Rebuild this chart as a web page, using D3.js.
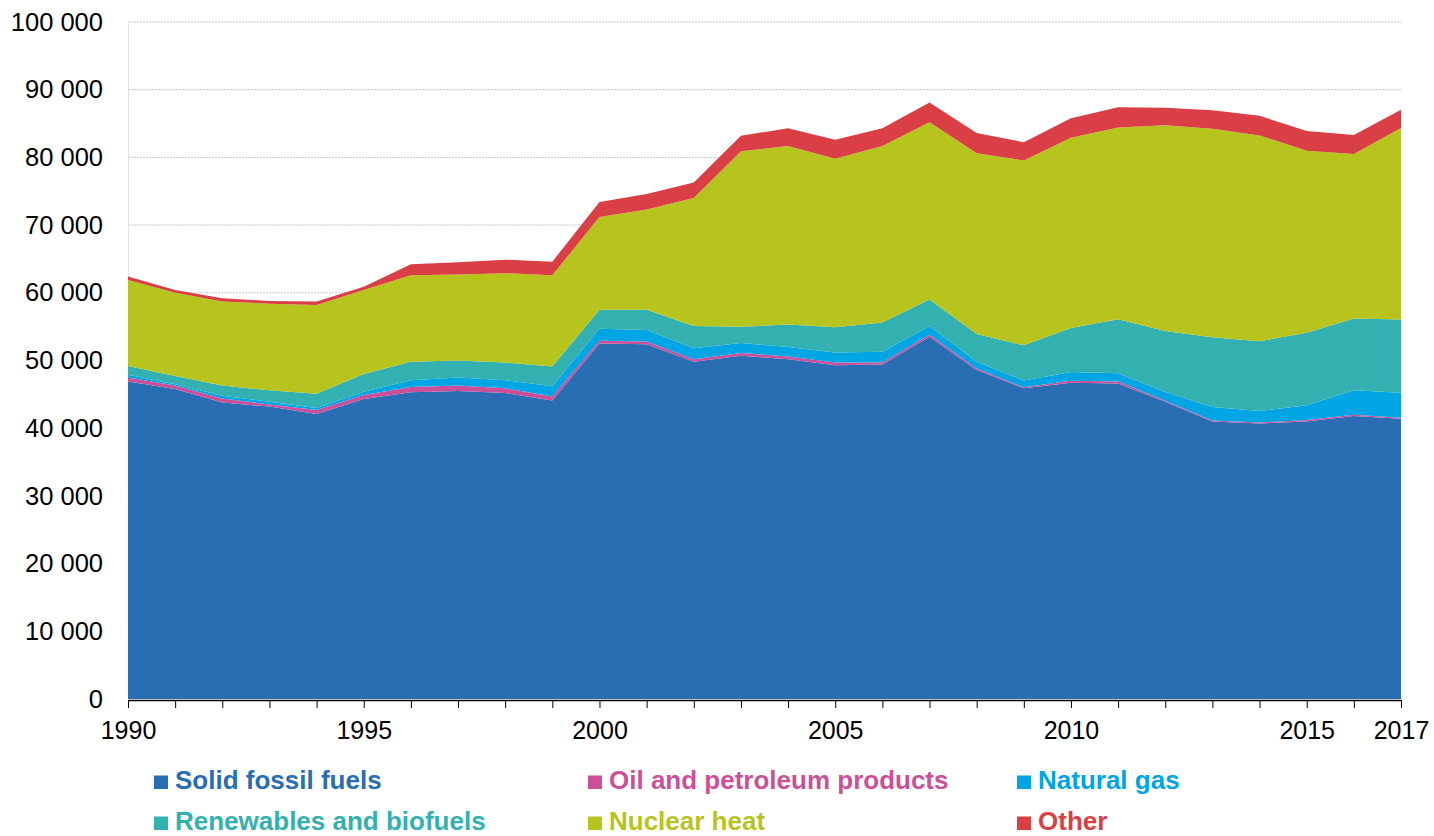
<!DOCTYPE html>
<html><head><meta charset="utf-8">
<script src="https://cdn.jsdelivr.net/npm/d3@7"></script>
<style>
body{margin:0;background:#fff;}
svg{display:block;font-family:"Liberation Sans",Arial,sans-serif;}
</style></head>
<body><svg id="c" width="1434" height="836"></svg>
<script>
const years = [1990,1991,1992,1993,1994,1995,1996,1997,1998,1999,2000,2001,2002,2003,2004,2005,2006,2007,2008,2009,2010,2011,2012,2013,2014,2015,2016,2017];
const solid = [46900,45800,43800,43200,42100,44300,45300,45500,45200,44100,52500,52400,49800,50700,50200,49300,49400,53500,48600,45900,46700,46600,43900,41000,40700,41000,41800,41400];
const oil   = [600,500,600,300,600,600,800,800,700,600,400,400,400,400,400,400,300,300,200,150,300,300,150,150,150,200,200,150];
const gas   = [400,200,400,400,300,500,1000,1200,1200,1500,1800,1700,1600,1500,1400,1500,1600,1300,1000,1000,1300,1200,1300,2000,1700,2200,3600,3700];
const renew = [1300,1200,1500,1700,2100,2600,2700,2500,2600,2900,2800,3000,3300,2400,3300,3700,4300,3900,4100,5200,6500,8000,9000,10300,10300,10700,10600,10800];
const nuclear = [12700,12300,12400,12800,13100,12400,12800,12700,13200,13500,13700,14800,18900,25900,26400,24900,26100,26200,26700,27300,28100,28300,30400,30800,30400,26900,24300,28300];
const other = [500,400,500,400,500,500,1600,1800,2000,2000,2200,2300,2300,2300,2600,2800,2600,2900,3000,2700,2900,3000,2600,2700,2900,2900,2800,2700];
const seriesNames = ["Solid fossil fuels","Oil and petroleum products","Natural gas","Renewables and biofuels","Nuclear heat","Other"];
const seriesColors = ["#296db2","#cc4f9a","#00a5e3","#33b0b0","#b8c41e","#d93f44"];
const yTicks = [0,10000,20000,30000,40000,50000,60000,70000,80000,90000,100000];
const xTickLabels = [1990,1995,2000,2005,2010,2015,2017];

const seriesValues = [solid, oil, gas, renew, nuclear, other];
const rows = years.map((y,i)=>{ const r={year:y}; seriesNames.forEach((n,k)=>r[n]=seriesValues[k][i]); return r; });

const svg = d3.select("#c");
const L=128, R=1401, T=22, B=699;
const x = d3.scaleLinear().domain([1990,2017]).range([L,R]);
const y = d3.scaleLinear().domain([0,100000]).range([B,T]);
const fmt = v => d3.format(",")(v).replace(/,/g," ");

// gridlines
svg.append("g").selectAll("line").data(yTicks.filter(d=>d>0)).join("line")
  .attr("x1",L).attr("x2",R).attr("y1",d=>y(d)).attr("y2",d=>y(d))
  .attr("stroke","#c8c8c8").attr("stroke-width",1).attr("stroke-dasharray","2,1");

// y axis labels
const yAxis = d3.axisLeft(y).tickValues(yTicks).tickFormat(fmt).tickSize(0).tickPadding(25);
const yg = svg.append("g").attr("transform",`translate(${L},0)`).call(yAxis);
yg.select(".domain").attr("stroke","#e0e0e0");
yg.selectAll("text").attr("font-size",25.5).attr("fill","#000").attr("font-family","'Liberation Sans',Arial,sans-serif");

// stacked areas
const stack = d3.stack().keys(seriesNames);
const layers = stack(rows);
const area = d3.area().x(d=>x(d.data.year)).y0(d=>y(d[0])).y1(d=>y(d[1]));
svg.append("g").selectAll("path").data(layers).join("path")
  .attr("d",area).attr("fill",(d,i)=>seriesColors[i]);

// x axis
const xAxis = d3.axisBottom(x).tickValues(years).tickFormat(d=>xTickLabels.includes(d)?d:"").tickSize(8).tickPadding(13).tickSizeOuter(0);
const xg = svg.append("g").attr("transform",`translate(0,${B+1})`).call(xAxis);
xg.select(".domain").attr("stroke","#000").attr("stroke-width",1.5);
xg.selectAll(".tick line").attr("stroke","#000");
xg.selectAll("text").attr("font-size",25).attr("fill","#000").attr("font-family","'Liberation Sans',Arial,sans-serif");

// legend
const legX = [154,588,1017], legY=[789,830];
const lg = svg.append("g").selectAll("g").data(seriesNames).join("g")
  .attr("transform",(d,i)=>`translate(${legX[i%3]},${legY[Math.floor(i/3)]})`);
lg.append("rect").attr("x",0).attr("y",-13.5).attr("width",14).attr("height",13.5).attr("fill",(d,i)=>seriesColors[i]);
lg.append("text").attr("x",21).attr("y",0).text(d=>d)
  .attr("font-size",26).attr("font-weight","bold").attr("fill",(d,i)=>seriesColors[i]);
</script></body></html>
